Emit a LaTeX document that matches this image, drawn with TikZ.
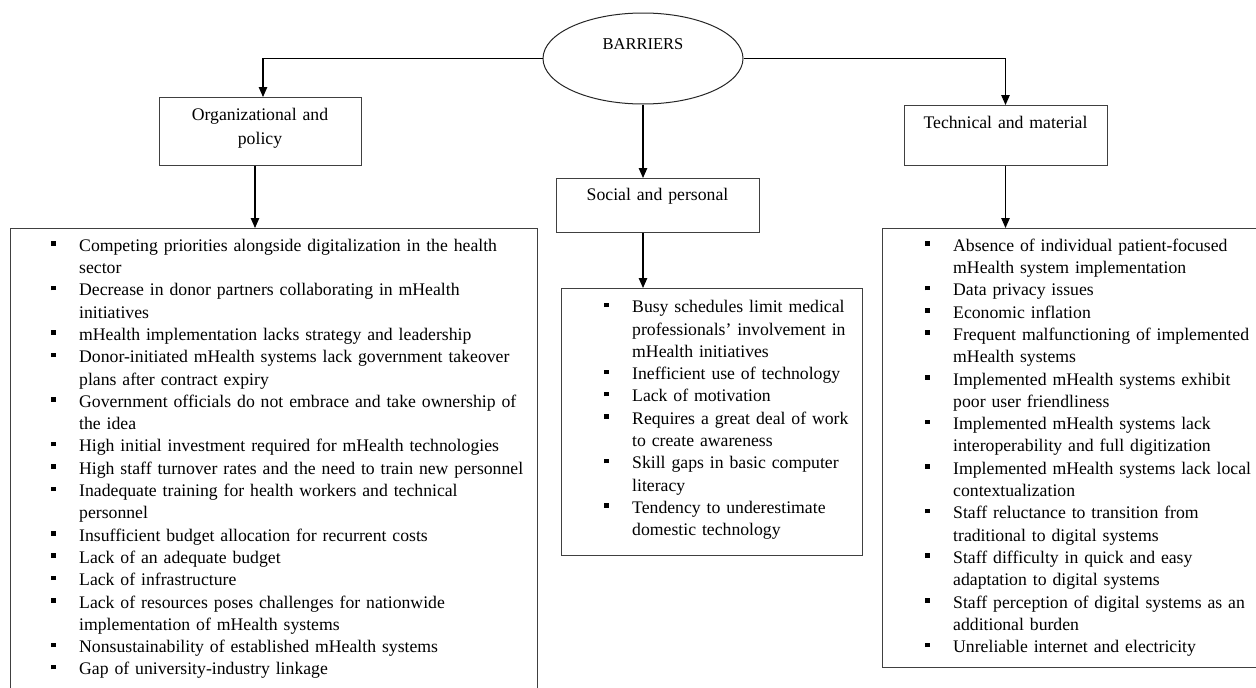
\documentclass[tikz,border=0pt]{standalone}
\usepackage{fontspec}
\setmainfont{Liberation Serif}
\usetikzlibrary{shapes.geometric,arrows.meta}

% square bullet with its hanging indent, and the indent alone for wrapped lines
\newcommand\bx{\makebox[28pt][l]{\rule[5.5pt]{4.5pt}{4.5pt}}}
\newcommand\hx{\hspace*{28pt}}

\begin{document}
\begin{tikzpicture}[x=1pt,y=-1pt,
  box/.style={draw=black!75, line width=1pt, inner sep=0pt},
  arr/.style={draw=black, line width=1.1pt, -{Triangle[length=10pt,width=8.5pt]}},
  lbl/.style={font=\fontsize{17.7}{24}\selectfont, text width=200pt, align=center, inner sep=0pt, anchor=north},
  lst/.style={font=\fontsize{17.7}{22.3}\selectfont, text width=520pt, align=left, inner sep=0pt, anchor=north west}]

\useasboundingbox (0,0) rectangle (1256,688);
\clip (0,0) rectangle (1256,688);

% root
\node[box, draw=black!85, ellipse, minimum width=200pt, minimum height=91pt] (root) at (643,58.5) {};
\node[font=\fontsize{16.5}{20}\selectfont, anchor=base, inner sep=0pt] (rootT) at (643,49) {BARRIERS};

% category boxes
\node[box, minimum width=202pt, minimum height=68pt, anchor=north] (org) at (260,97) {};
\node[box, minimum width=203pt, minimum height=54pt, anchor=north] (soc) at (657.5,178) {};
\node[box, minimum width=203pt, minimum height=60pt, anchor=north] (tec) at (1005.5,105) {};
\node[lbl] (orgT) at (260,103.2) {\strut Organizational and\\ policy};
\node[lbl] (socT) at (657.5,183.2) {\strut Social and personal};
\node[lbl] (tecT) at (1005.5,111.2) {\strut Technical and material};

% list boxes
\node[box, minimum width=527pt, minimum height=480pt, anchor=north] (boxL) at (273.5,228) {};
\node[box, minimum width=301pt, minimum height=267pt, anchor=north] (boxM) at (711.5,288) {};
\node[box, minimum width=400pt, minimum height=439pt, anchor=north west] (boxR) at (882,228) {};

\node[lst] (listL) at (51,235.4) {\strut\bx Competing priorities alongside digitalization in the health\\
\hx sector\\
\bx Decrease in donor partners collaborating in mHealth\\
\hx initiatives\\
\bx mHealth implementation lacks strategy and leadership\\
\bx Donor-initiated mHealth systems lack government takeover\\
\hx plans after contract expiry\\
\bx Government officials do not embrace and take ownership of\\
\hx the idea\\
\bx High initial investment required for mHealth technologies\\
\bx High staff turnover rates and the need to train new personnel\\
\bx Inadequate training for health workers and technical\\
\hx personnel\\
\bx Insufficient budget allocation for recurrent costs\\
\bx Lack of an adequate budget\\
\bx Lack of infrastructure\\
\bx Lack of resources poses challenges for nationwide\\
\hx implementation of mHealth systems\\
\bx Nonsustainability of established mHealth systems\\
\bx Gap of university-industry linkage};

\node[lst] (listM) at (604,296.9) {\strut\bx Busy schedules limit medical\\
\hx professionals’ involvement in\\
\hx mHealth initiatives\\
\bx Inefficient use of technology\\
\bx Lack of motivation\\
\bx Requires a great deal of work\\
\hx to create awareness\\
\bx Skill gaps in basic computer\\
\hx literacy\\
\bx Tendency to underestimate\\
\hx domestic technology};

\node[lst] (listR) at (925,235.4) {\strut\bx Absence of individual patient-focused\\
\hx mHealth system implementation\\
\bx Data privacy issues\\
\bx Economic inflation\\
\bx Frequent malfunctioning of implemented\\
\hx mHealth systems\\
\bx Implemented mHealth systems exhibit\\
\hx poor user friendliness\\
\bx Implemented mHealth systems lack\\
\hx interoperability and full digitization\\
\bx Implemented mHealth systems lack local\\
\hx contextualization\\
\bx Staff reluctance to transition from\\
\hx traditional to digital systems\\
\bx Staff difficulty in quick and easy\\
\hx adaptation to digital systems\\
\bx Staff perception of digital systems as an\\
\hx additional burden\\
\bx Unreliable internet and electricity};

% connectors
\draw[arr] (root.west) -| ([xshift=3pt]org.north);
\draw[arr] (root.east) -| (tec.north);
\draw[arr] (root.south) -- (root.south |- soc.north);
\draw[arr] ([xshift=-5pt]org.south) -- ([xshift=-5pt]org.south |- boxL.north);
\draw[arr] (root.south |- soc.south) -- (root.south |- boxM.north);
\draw[arr] (tec.south) -- (tec.south |- boxR.north);
\end{tikzpicture}
\end{document}
